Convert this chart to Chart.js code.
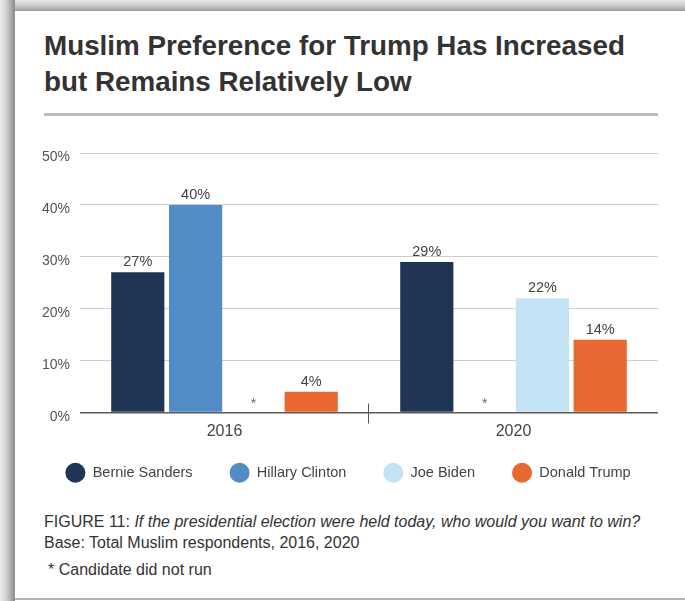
<!DOCTYPE html>
<html>
<head>
<meta charset="utf-8">
<script src="https://cdn.jsdelivr.net/npm/chart.js@4"></script>
<style>
  body { margin: 0; background: #fff; }
  #page { position: relative; width: 685px; height: 601px; overflow: hidden; background: #fff; font-family: "Liberation Sans", Arial, sans-serif; }
  .edge-top { position: absolute; left: 0; top: 0; width: 685px; height: 11px; background: linear-gradient(to bottom, #e8e8e8 0, #cfcfcf 5px, #a6a6a6 10px, #9a9a9a 11px); }
  .edge-left { position: absolute; left: 0; top: 0; width: 15px; height: 601px; background: linear-gradient(to right, #ededed 0, #d2d2d2 6px, #a4a4a4 12px, #8c8c8c 14px, #9c9c9c 15px); }
  .edge-bottom { position: absolute; left: 15px; top: 598px; width: 670px; height: 2px; background: #b4b4b4; }
  .title { position: absolute; left: 44px; top: 28px; font-size: 27.8px; line-height: 36px; font-weight: bold; color: #333; white-space: nowrap; }
  .rule { position: absolute; left: 44px; top: 113px; width: 614px; height: 3px; background: #bdbdbd; }
  .note { position: absolute; left: 44px; font-size: 16px; line-height: 19px; color: #333; white-space: nowrap; }
  .note i { font-style: italic; }
  canvas { position: absolute; left: 0; top: 130px; }
</style>
</head>
<body>
<div id="page">
  <div class="edge-top"></div>
  <div class="edge-left"></div>
  <div class="edge-bottom"></div>
  <div class="title">Muslim Preference for Trump Has Increased<br>but Remains Relatively Low</div>
  <div class="rule"></div>
  <div class="note" style="top:512px">FIGURE 11: <i>If the presidential election were held today, who would you want to win?</i></div>
  <div class="note" style="top:533px">Base: Total Muslim respondents, 2016, 2020</div>
  <div class="note" style="top:560px; left:48px">* Candidate did not run</div>
  <canvas id="chart" width="685" height="360"></canvas>
</div>
<script>
const years = ["2016", "2020"];
const sanders = [27, 29];
const clinton = [40, null];   // did not run in 2020
const biden = [null, 22];     // did not run in 2016
const trump = [4, 14];
const yTicks = [0, 10, 20, 30, 40, 50];

const FONT = '"Liberation Sans", Arial, sans-serif';

// value labels on top of bars, "*" where a candidate did not run,
// year labels under each group and the small divider tick between them
const barNotes = {
  id: 'barNotes',
  afterDatasetsDraw(chart) {
    const ctx = chart.ctx;
    const xs = chart.scales.x;
    const zero = chart.scales.y.getPixelForValue(0);
    ctx.save();
    ctx.textAlign = 'center';
    ctx.textBaseline = 'alphabetic';
    chart.data.datasets.forEach((ds, di) => {
      chart.getDatasetMeta(di).data.forEach((bar, i) => {
        const v = ds.data[i];
        if (v === null) {
          ctx.font = '14px ' + FONT;
          ctx.fillStyle = '#666';
          ctx.fillText('*', bar.x, zero - 5);
        } else {
          ctx.font = '14.5px ' + FONT;
          ctx.fillStyle = '#444';
          ctx.fillText(v + '%', bar.x, bar.y - 6);
        }
      });
    });
    ctx.font = '16px ' + FONT;
    ctx.fillStyle = '#444';
    chart.data.labels.forEach((lab, i) => {
      ctx.fillText(lab, xs.getPixelForValue(i), zero + 23);
    });
    const mid = Math.round((xs.getPixelForValue(0) + xs.getPixelForValue(1)) / 2) - 0.5;
    ctx.strokeStyle = '#555';
    ctx.lineWidth = 1;
    ctx.beginPath();
    ctx.moveTo(mid, zero - 9);
    ctx.lineTo(mid, zero + 11);
    ctx.stroke();
    ctx.restore();
  }
};

new Chart(document.getElementById('chart'), {
  type: 'bar',
  data: {
    labels: years,
    datasets: [
      { label: 'Bernie Sanders', data: sanders, backgroundColor: '#203456' },
      { label: 'Hillary Clinton', data: clinton, backgroundColor: '#518cc6' },
      { label: 'Joe Biden', data: biden, backgroundColor: '#c3e3f5' },
      { label: 'Donald Trump', data: trump, backgroundColor: '#e76832' }
    ]
  },
  options: {
    responsive: false,
    animation: false,
    devicePixelRatio: 1,
    datasets: { bar: { barPercentage: 0.92, categoryPercentage: 0.8, borderWidth: 0 } },
    layout: { padding: { left: 26, right: 15, top: 23, bottom: 0 } },
    plugins: {
      title: { display: false },
      tooltip: { enabled: false },
      legend: {
        position: 'bottom',
        labels: {
          usePointStyle: true,
          pointStyle: 'circle',
          pointStyleWidth: 20,
          boxHeight: 14,
          padding: 37,
          color: '#444',
          font: { family: FONT, size: 14.5 }
        }
      }
    },
    scales: {
      x: {
        grid: { display: false },
        border: { display: false },
        ticks: { display: false },
        afterFit: s => { s.height = 16; }
      },
      y: {
        min: 0,
        max: 50,
        afterBuildTicks: s => { s.ticks = yTicks.map(v => ({ value: v })); },
        afterFit: s => { s.width = 54; },
        border: { display: false },
        grid: {
          drawTicks: false,
          color: c => c.tick.value === 0 ? '#5a5a5a' : '#cdcdd4',
          lineWidth: c => c.tick.value === 0 ? 1.5 : 1
        },
        ticks: {
          padding: 10,
          labelOffset: 4.5,
          color: '#555',
          font: { family: FONT, size: 14 },
          callback: v => v + '%'
        }
      },
      // empty right-hand gutter so the legend row has room for all four items
      yRight: {
        position: 'right',
        grid: { display: false },
        border: { display: false },
        ticks: { display: false },
        afterFit: s => { s.width = 12; }
      }
    }
  },
  plugins: [barNotes]
});
</script>
</body>
</html>
